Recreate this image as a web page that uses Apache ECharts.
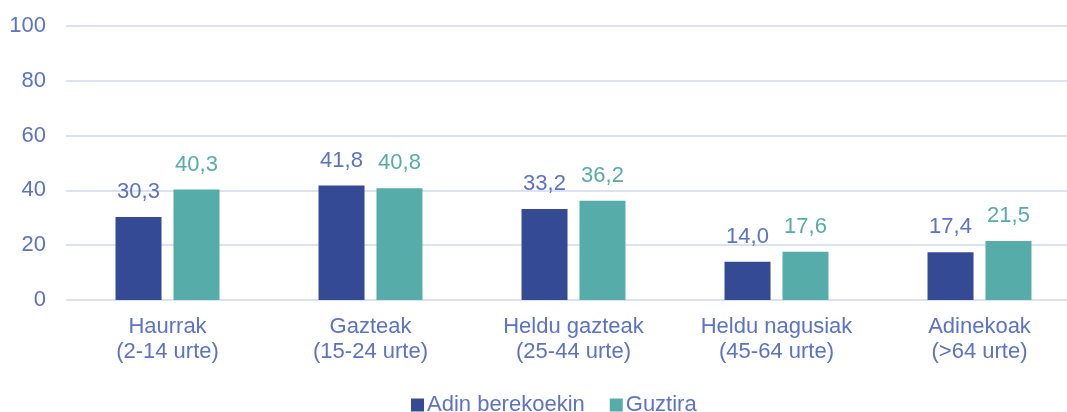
<!DOCTYPE html>
<html>
<head>
<meta charset="utf-8">
<script src="https://cdn.jsdelivr.net/npm/echarts@6/dist/echarts.min.js"></script>
<style>
  html, body { margin: 0; padding: 0; background: #fff; }
  #chart { width: 1067px; height: 412px; }
</style>
</head>
<body>
<div id="chart"></div>
<script>
// adin taldeak
const categories = [
  'Haurrak\n(2-14 urte)',
  'Gazteak\n(15-24 urte)',
  'Heldu gazteak\n(25-44 urte)',
  'Heldu nagusiak\n(45-64 urte)',
  'Adinekoak\n(>64 urte)'
];
const seriesNames = ['Adin berekoekin', 'Guztira'];
const adinBerekoekin = [30.3, 41.8, 33.2, 14.0, 17.4];
const guztira = [40.3, 40.8, 36.2, 17.6, 21.5];
const yTicks = [0, 20, 40, 60, 80, 100];

const NAVY = '#354a95';
const TEAL = '#56aca8';
const TEXT = '#5b72c6';
const FONT = 'Liberation Sans, Arial, sans-serif';
const FS = 22;

const fmt = p => p.value.toFixed(1).replace('.', ',');

const chart = echarts.init(document.getElementById('chart'), null, { renderer: 'canvas' });
chart.setOption({
  animation: false,
  backgroundColor: '#fff',
  textStyle: { fontFamily: FONT },
  grid: { left: 66, right: -14, top: 26, bottom: 112, containLabel: false, outerBoundsMode: 'none' },
  legend: {
    bottom: -9,
    left: 406,
    itemWidth: 13,
    itemHeight: 13,
    itemGap: 25,
    icon: 'rect',
    textStyle: { color: TEXT, fontSize: FS, fontFamily: FONT, padding: [0, 0, 0, -2] },
    data: seriesNames
  },
  xAxis: {
    type: 'category',
    data: categories,
    axisLine: { show: false },
    axisTick: { show: false },
    axisLabel: { color: TEXT, fontSize: FS, lineHeight: 25, margin: 14, interval: 0 }
  },
  yAxis: {
    type: 'value',
    min: yTicks[0],
    max: yTicks[yTicks.length - 1],
    interval: 20,
    axisLine: { show: false },
    axisTick: { show: false },
    axisLabel: { color: TEXT, fontSize: FS, margin: 20 },
    splitLine: { lineStyle: { color: '#dde2f2', width: 2 } }
  },
  series: [
    {
      name: seriesNames[0],
      type: 'bar',
      data: adinBerekoekin,
      barWidth: 46,
      barGap: '26%',
      itemStyle: { color: NAVY },
      label: { show: true, position: 'top', distance: 14, color: TEXT, fontSize: FS, formatter: fmt }
    },
    {
      name: seriesNames[1],
      type: 'bar',
      data: guztira,
      barWidth: 46,
      barGap: '26%',
      itemStyle: { color: TEAL },
      label: { show: true, position: 'top', distance: 14, color: TEAL, fontSize: FS, formatter: fmt }
    }
  ]
});
</script>
</body>
</html>
